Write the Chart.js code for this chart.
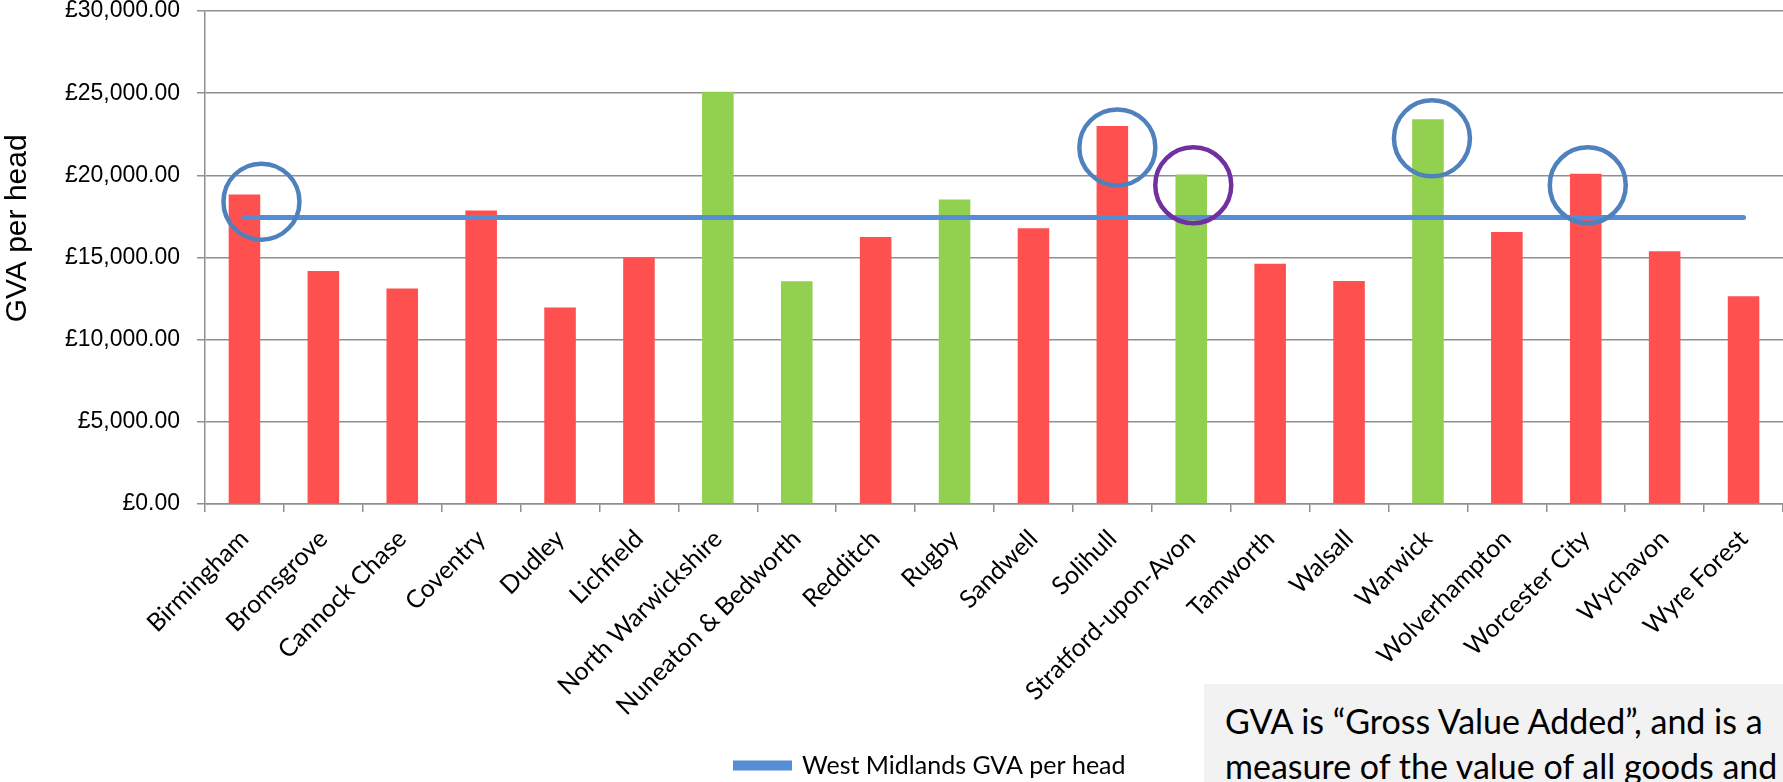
<!DOCTYPE html>
<html>
<head>
<meta charset="utf-8">
<script src="https://cdn.jsdelivr.net/npm/chart.js@4.4.1/dist/chart.umd.min.js"></script>
<style>
  html, body { margin: 0; padding: 0; background: #fff; overflow: hidden; }
  #wrap { position: relative; width: 1783px; height: 782px; }
  #gvaChart { position: absolute; left: 0; top: 0; }
  #note {
    position: absolute; left: 1204px; top: 684px; right: 0; bottom: 0;
    background: #f2f2f2; overflow: hidden; white-space: nowrap;
    font-family: Lato, "Open Sans", sans-serif; font-size: 34px; line-height: 45px;
    color: #000; padding: 14px 0 0 21px; box-sizing: border-box;
  }
</style>
</head>
<body>
<div id="wrap">
  <canvas id="gvaChart" width="1783" height="782"></canvas>
  <div id="note">GVA is “Gross Value Added”, and is a<br>measure of the value of all goods and services</div>
</div>
<script>
  // ===== Data =====
  const districts = ["Birmingham", "Bromsgrove", "Cannock Chase", "Coventry", "Dudley", "Lichfield",
    "North Warwickshire", "Nuneaton & Bedworth", "Redditch", "Rugby", "Sandwell", "Solihull",
    "Stratford-upon-Avon", "Tamworth", "Walsall", "Warwick", "Wolverhampton", "Worcester City",
    "Wychavon", "Wyre Forest"];
  const gvaPerHead = [18830, 14180, 13120, 17855, 11965, 14990, 25090, 13550, 16250, 18525,
    16780, 22995, 20050, 14625, 13570, 23420, 16555, 20090, 15375, 12635];
  const westMidlands = [17430, 17430, 17430, 17430, 17430, 17430, 17430, 17430, 17430, 17430,
    17430, 17430, 17430, 17430, 17430, 17430, 17430, 17430, 17430, 17430];
  const warwickshire = ["North Warwickshire", "Nuneaton & Bedworth", "Rugby", "Stratford-upon-Avon", "Warwick"];
  const yTicks = [0, 5000, 10000, 15000, 20000, 25000, 30000];

  // circled districts (annotation rings) and the level their centre sits at
  const circled = ["Birmingham", "Solihull", "Stratford-upon-Avon", "Warwick", "Worcester City"];
  const circleLevels = [18400, 21700, 19400, 22250, 19400];

  const barColours = districts.map(d => warwickshire.includes(d) ? "#92d050" : "#ff5050");

  // ===== Ring plugin =====
  const ringPlugin = {
    id: "rings",
    afterDatasetsDraw(chart, args, opts) {
      const ctx = chart.ctx;
      const x = chart.scales.x, y = chart.scales.y;
      ctx.save();
      circled.forEach((name, i) => {
        const idx = districts.indexOf(name);
        const cx = x.getPixelForValue(idx) + opts.shifts[i];
        const cy = y.getPixelForValue(circleLevels[i]);
        ctx.beginPath();
        ctx.arc(cx, cy, opts.radius, 0, Math.PI * 2);
        ctx.lineWidth = opts.width;
        ctx.strokeStyle = opts.colours[i];
        ctx.stroke();
      });
      ctx.restore();
    }
  };

  // nudge the legend a bit right/down like the original sheet
  const legendNudge = {
    id: "legendNudge",
    afterLayout(chart, args, opts) {
      const lg = chart.legend;
      lg.left += opts.dx; lg.right += opts.dx;
      lg.top += opts.dy; lg.bottom += opts.dy;
    }
  };

  const ctx = document.getElementById("gvaChart").getContext("2d");
  new Chart(ctx, {
    data: {
      labels: districts,
      datasets: [
        {
          type: "line",
          label: "West Midlands GVA per head",
          data: westMidlands,
          borderColor: "#558ed5",
          backgroundColor: "#558ed5",
          borderWidth: 5,
          borderCapStyle: "round",
          pointRadius: 0,
          order: 0
        },
        {
          type: "bar",
          label: "GVA per head",
          data: gvaPerHead,
          backgroundColor: barColours,
          barPercentage: 0.8,
          categoryPercentage: 0.5,
          order: 1
        }
      ]
    },
    options: {
      responsive: false,
      animation: false,
      layout: { padding: 0 },
      plugins: {
        tooltip: { enabled: false },
        legend: {
          position: "bottom",
          labels: {
            filter: item => item.datasetIndex === 0,
            boxWidth: 54,
            boxHeight: 5,
            padding: 10,
            color: "#000",
            font: { family: "Lato", size: 25 }
          }
        },
        legendNudge: { dx: 39, dy: 6 },
        rings: {
          shifts: [17, 5, 2, 4, 2],
          colours: ["#4f81bd", "#4f81bd", "#7030a0", "#4f81bd", "#4f81bd"],
          radius: 38,
          width: 4.5
        }
      },
      scales: {
        x: {
          offset: true,
          afterFit: s => { s.height = 233; },
          grid: { offset: true, drawOnChartArea: false, drawTicks: true, tickLength: 8, color: "#8f8f8f", lineWidth: 1.5 },
          border: { color: "#8f8f8f", width: 1.5 },
          ticks: {
            autoSkip: false, minRotation: 45, maxRotation: 45, padding: 12,
            color: "#000", font: { family: "Lato", size: 25 }
          }
        },
        y: {
          min: 0,
          max: 30000,
          afterFit: s => { s.width = 205; s.paddingTop = 11; },
          afterBuildTicks: s => { s.ticks = yTicks.map(v => ({ value: v })); },
          grid: { color: "#8f8f8f", lineWidth: 1.5, tickLength: 8 },
          border: { color: "#8f8f8f", width: 1.5 },
          title: {
            // leading spaces lift the title a little above the axis middle, as in the sheet
            display: true, text: "       GVA per head", color: "#000",
            font: { family: "Liberation Sans", size: 30 }, padding: { top: 0, bottom: 0 }
          },
          ticks: {
            padding: 17, color: "#000",
            font: { family: "Liberation Sans", size: 23, lineHeight: 1 },
            callback: v => "£" + Number(v).toLocaleString("en-GB", { minimumFractionDigits: 2, maximumFractionDigits: 2 })
          }
        }
      }
    },
    plugins: [ringPlugin, legendNudge]
  });
</script>
</body>
</html>
